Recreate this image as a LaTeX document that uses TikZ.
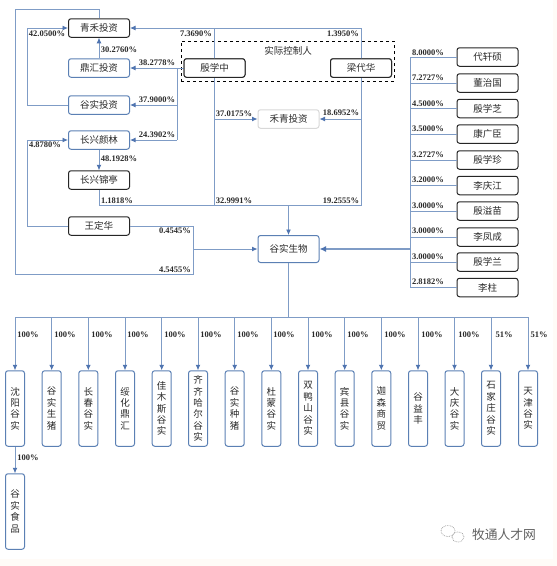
\documentclass[tikz,border=0pt]{standalone}
\usepackage{fontspec}
\setmainfont{Noto Sans CJK SC}
\newfontfamily\pctfont{Liberation Serif}[BoldFont={Liberation Serif Bold}]
\usetikzlibrary{arrows.meta,calc}
\definecolor{lnblue}{HTML}{7F9CC6}
\definecolor{tipblue}{HTML}{4F74B0}
\definecolor{edgeblue}{HTML}{5B80B4}
\definecolor{inkdark}{HTML}{2A2A2A}
\definecolor{greyedge}{HTML}{D8D8D8}
\tikzset{
 x=1pt,y=-1pt,
 basebox/.style={rounded corners=2.5pt,inner sep=0pt,font=\fontsize{9.5}{11}\selectfont,text=inkdark},
 blackbox/.style={basebox,draw=black!85,line width=1pt,minimum width=61pt,minimum height=18.5pt},
 bluebox/.style={basebox,draw=edgeblue,line width=1pt,minimum width=61pt,minimum height=18.5pt},
 greybox/.style={basebox,draw=greyedge,line width=1pt,minimum width=61pt,minimum height=18.5pt},
 vbox/.style={basebox,draw=edgeblue,line width=1pt,minimum width=19pt,minimum height=75.5pt,align=center,
   font=\fontsize{9.5}{11.4}\selectfont},
 pct/.style={inner sep=0pt,font=\pctfont\bfseries\fontsize{8.5}{10}\selectfont,text=inkdark},
 link/.style={draw=lnblue,line width=0.9pt},
 arr/.style={link,-{Latex[length=5.5pt,width=5pt,color=tipblue]}},
}
\begin{document}
\begin{tikzpicture}
\useasboundingbox (0,0) rectangle (557,566);
\fill[white] (0,0) rectangle (557,566);
\fill[black!2!orange!3!white] (0,559) rectangle (557,566);
\fill[black!2!orange!3!white] (553,0) rectangle (557,566);

% upper left holdings
\node[blackbox] (qh) at (99,28) {青禾投资};
\node[bluebox]  (dh) at (99,68) {鼎汇投资};
\node[bluebox]  (gs) at (99,105) {谷实投资};
\node[bluebox]  (cy) at (99,140) {长兴颜林};
\node[blackbox] (cj) at (99,180) {长兴锦亭};
\node[blackbox] (wd) at (99,226) {王定华};
\node[blackbox] (yx) at (214.5,68) {殷学中};
\node[blackbox] (ld) at (361,68) {梁代华};
\node[greybox]  (hq) at (288.5,119) {禾青投资};
\node[bluebox,minimum height=27pt] (gb) at (288.5,249) {谷实生物};

% controller frame
\node[draw=black,dashed,line width=1pt,minimum width=213pt,minimum height=40pt,inner sep=0pt] (ctrl) at (287.5,61) {};
\node[inner sep=0pt,font=\fontsize{9.5}{11}\selectfont,text=inkdark] (ctrltxt) at (288,51) {实际控制人};

% helper points
\coordinate (topR) at (ld.center |- qh.east);
\coordinate (busL) at (cj.south |- 0,205.5);
\coordinate (busR) at (ld.center |- 0,205.5);
\coordinate (busM) at (gb.north |- 0,205.5);
\coordinate (busY) at (yx.center |- 0,205.5);
\coordinate (topY) at (yx.center |- qh.east);
\coordinate (sp) at (177,68);
\coordinate (leftA) at (27.5,105);
\coordinate (wdR) at (193.5,226);
\coordinate (wdB) at (193.5,274);
\coordinate (wdM) at (193.5,249);
\coordinate (outL) at (15,274);
\coordinate (outT) at (15,9.5);

% links in upper part
\draw[arr] (topR) -- (qh.east);
\draw[link] (topR) -- (busR);
\draw[link] (topY) -- (busY);
\draw[link] (cj.south) -- (busL) -- (busR);
\draw[arr] (busM) -- (gb.north);
\draw[arr] (yx.center |- hq.west) -- (hq.west);
\draw[arr] (ld.center |- hq.east) -- (hq.east);
\draw[arr] (yx.west) -- (dh.east);
\draw[link] (sp) -- (sp |- cy.east);
\draw[arr] (sp |- gs.east) -- (gs.east);
\draw[arr] (sp |- cy.east) -- (cy.east);
\draw[arr] (dh.north) -- (qh.south);
\draw[arr] (gs.west) -- (leftA) -- (leftA |- qh.west) -- (qh.west);
\draw[arr] (cy.south) -- (cj.north);
\draw[arr] (wd.west) -- (leftA |- wd.west) -- (leftA |- cy.west) -- (cy.west);
\draw[link] (wd.east) -- (wdR) -- (wdB) -- (outL) -- (outT) -- (outT -| qh.north) -- (qh.north);
\draw[arr] (wdM) -- (gb.west);

% boxes sit over the lines
\node[blackbox,fill=white] at (yx) {殷学中};
\node[blackbox,fill=white] at (ld) {梁代华};

% shareholders on the right
\coordinate (trT) at (410,57);
\coordinate (trB) at (410,287);
\draw[link] (trT) -- (trB);
\draw[link,line width=1.4pt,-{Latex[length=6.5pt,width=6pt,color=tipblue]}] (trT |- gb.east) -- (gb.east);
\foreach \n/\y/\t/\p/\ly in {
 r1/57/代轩硕/8.0000\%/52.5, r2/83/董治国/7.2727\%/78, r3/108.5/殷学芝/4.5000\%/103.5,
 r4/134/康广臣/3.5000\%/129, r5/160/殷学珍/3.2727\%/155, r6/185.5/李庆江/3.2000\%/180,
 r7/211/殷溢苗/3.0000\%/206, r8/237/李凤成/3.0000\%/231, r9/262/殷学兰/3.0000\%/257,
 r10/287.5/李柱/2.8182\%/282}{
  \node[blackbox] (\n) at (487.5,\y) {\t};
  \draw[link] (\n.west) -- (trT |- \n.west);
  \node[pct] (\n p) at (428,\ly) {\p};
}

% subsidiaries
\coordinate (barM) at (gb.south |- 0,317);
\coordinate (barL) at (15,317);
\coordinate (barR) at (528,317);
\draw[link] (gb.south) -- (barM);
\draw[link] (barL) -- (barR);
\foreach \n/\x/\lx/\p/\t in {
 s1/15/28/100/{沈\\阳\\谷\\实},
 s2/51.7/65/100/{谷\\实\\生\\猪},
 s3/88.3/102/100/{长\\春\\谷\\实},
 s4/125/138/100/{绥\\化\\鼎\\汇},
 s5/161.7/175/100/{佳\\木\\斯\\谷\\实},
 s6/198/211/100/{齐\\齐\\哈\\尔\\谷\\实},
 s7/234.7/248/100/{谷\\实\\种\\猪},
 s8/271.3/284/100/{杜\\蒙\\谷\\实},
 s9/308/322/100/{双\\鸭\\山\\谷\\实},
 s10/344.7/358/100/{宾\\县\\谷\\实},
 s11/381.3/395/100/{迦\\森\\商\\贸},
 s12/418/432/100/{谷\\益\\丰},
 s13/454.5/469/100/{大\\庆\\谷\\实},
 s14/491/504/51/{石\\家\\庄\\谷\\实},
 s15/528/539/51/{天\\津\\谷\\实}}{
  \node[vbox] (\n) at (\x,408.5) {\t};
  \draw[arr] (\n.north |- barL) -- (\n.north);
  \node[pct] (\n p) at (\lx,334.5) {\p\%};
}
\node[vbox] (sf) at (15,511.5) {谷\\实\\食\\品};
\draw[arr] (s1.south) -- (sf.north);
\node[pct] (sfp) at (28,458) {100\%};

% percentages
\node[pct] (p1) at (47,34) {42.0500\%};
\node[pct] (p2) at (119,50) {30.2760\%};
\node[pct] (p3) at (157,63) {38.2778\%};
\node[pct] (p4) at (157,100) {37.9000\%};
\node[pct] (p5) at (157,134.5) {24.3902\%};
\node[pct] (p6) at (45,145) {4.8780\%};
\node[pct] (p7) at (119,159) {48.1928\%};
\node[pct] (p8) at (117,201) {1.1818\%};
\node[pct] (p9) at (196,34) {7.3690\%};
\node[pct] (p10) at (234,114) {37.0175\%};
\node[pct] (p11) at (234,201) {32.9991\%};
\node[pct] (p12) at (175,231) {0.4545\%};
\node[pct] (p13) at (175,270) {4.5455\%};
\node[pct] (p14) at (343,34) {1.3950\%};
\node[pct] (p15) at (341,113) {18.6952\%};
\node[pct] (p16) at (341,201) {19.2555\%};

% watermark
\draw[black!40,densely dotted,line width=0.7pt] (448,531) ellipse (7pt and 5.5pt);
\draw[black!40,densely dotted,line width=0.7pt,fill=white] (458,537) ellipse (6pt and 5pt);
\node[inner sep=0pt,font=\fontsize{12.8}{14}\selectfont,text=black!62] (wm) at (504,535) {牧通人才网};
\end{tikzpicture}
\end{document}
